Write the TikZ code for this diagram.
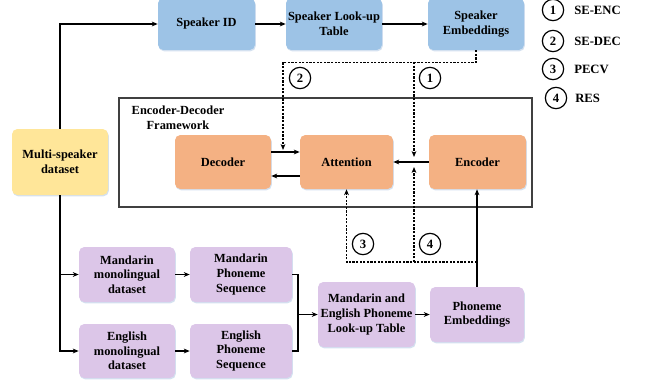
\documentclass[tikz,border=0pt]{standalone}
\usepackage{fontspec}
\setmainfont{Liberation Serif}
\usetikzlibrary{arrows.meta,calc,shadows}
\definecolor{cblue}{HTML}{9DC3E6}
\definecolor{corange}{HTML}{F4B183}
\definecolor{cyellow}{HTML}{FFE699}
\definecolor{cpurple}{HTML}{DCC6E8}
\definecolor{cshadow}{HTML}{C9D9EC}
\definecolor{cframe}{HTML}{404040}
\tikzset{
  box/.style={rounded corners=4pt, align=center, inner sep=1pt,
    font=\fontsize{9.3}{10.9}\selectfont\bfseries,
    drop shadow={shadow xshift=0.6pt, shadow yshift=-1pt, fill=cshadow, opacity=0.8}},
  bluebox/.style={box, fill=cblue},
  orangebox/.style={box, fill=corange},
  yellowbox/.style={box, fill=cyellow},
  purplebox/.style={box, fill=cpurple},
  conn/.style={line width=0.9pt, -{Stealth[length=4.5pt,width=3.6pt]}},
  plain/.style={line width=0.9pt},
  dashline/.style={line width=0.9pt, dash pattern=on 1.6pt off 1.1pt},
  dconn/.style={dashline, -{Stealth[length=4.5pt,width=3.6pt]}},
  numc/.style={circle, draw, line width=0.9pt, minimum size=16pt, inner sep=0pt,
    font=\fontsize{9.5}{10}\selectfont\bfseries},
  legtxt/.style={anchor=west, inner sep=0pt, font=\fontsize{9.5}{10.9}\selectfont\bfseries},
}
\begin{document}
\begin{tikzpicture}[x=0.75pt,y=-0.75pt]
\useasboundingbox (0,0) rectangle (645,385);

% frame
\draw[line width=1.2pt, draw=cframe] (119,98) rectangle (532,207);
\node[align=center, inner sep=0pt, font=\fontsize{9.3}{11}\selectfont\bfseries] (flabel) at (178,118) {Encoder-Decoder\\Framework};

% top row
\node[bluebox, minimum width=72.75pt, minimum height=39pt] (spkid) at (206.5,24) {Speaker ID};
\node[bluebox, minimum width=72pt, minimum height=39pt] (spklut) at (334,24) {Speaker Look-up\\Table};
\node[bluebox, minimum width=72pt, minimum height=39pt] (spkemb) at (476,24) {Speaker\\Embeddings};

% left
\node[yellowbox, minimum width=72pt, minimum height=49.5pt] (multi) at (60,162) {Multi-speaker\\dataset};

% encoder-decoder
\node[orangebox, minimum width=72pt, minimum height=40.5pt] (decoder) at (223,162) {Decoder};
\node[orangebox, minimum width=69.75pt, minimum height=40.5pt] (attention) at (346.5,162) {Attention};
\node[orangebox, minimum width=72.75pt, minimum height=40.5pt] (encoder) at (477.5,162) {Encoder};

% bottom
\node[purplebox, minimum width=72pt, minimum height=41.25pt] (mmono) at (127,274.5) {Mandarin\\monolingual\\dataset};
\node[purplebox, minimum width=72pt, minimum height=40.5pt] (emono) at (127,351) {English\\monolingual\\dataset};
\node[purplebox, minimum width=76.5pt, minimum height=41.25pt] (mseq) at (241,274.5) {Mandarin\\Phoneme\\Sequence};
\node[purplebox, minimum width=76.5pt, minimum height=40.5pt] (eseq) at (241,351) {English\\Phoneme\\Sequence};
\node[purplebox, minimum width=72.75pt, minimum height=48.75pt] (plut) at (366.5,314.5) {Mandarin and\\English Phoneme\\Look-up Table};
\node[purplebox, minimum width=70.5pt, minimum height=41.25pt] (pemb) at (477,314.5) {Phoneme\\Embeddings};

% helper coordinates
\coordinate (br) at (298,314.5);
\coordinate (sedec) at (283,150);
\coordinate (seenctop) at (414,62);
\coordinate (seenc) at (414,157);
\coordinate (dl) at (477,262);
\coordinate (resbot) at (414,262);
\coordinate (res) at (414,167);

% connectors
\draw[conn] (multi.north) |- (spkid.west);
\draw[conn] (spkid.east) -- (spklut.west);
\draw[conn] (spklut.east) -- (spkemb.west);
\draw[conn] (multi.south) |- (emono.west);
\draw[conn] (multi.south |- mmono.west) -- (mmono.west);
\draw[conn] (mmono.east) -- (mseq.west);
\draw[conn] (emono.east) -- (eseq.west);
\draw[plain] (mseq.east) -| (br) |- (eseq.east);
\draw[conn] (br) -- (plut.west);
\draw[conn] (plut.east) -- (pemb.west);
\draw[conn] (pemb.north) -- (pemb.north |- encoder.south);
\draw[conn] ($(decoder.east)+(0,-10)$) -- ($(attention.west)+(0,-10)$);
\draw[conn] ($(attention.west)+(0,14)$) -- ($(decoder.east)+(0,14)$);
\draw[conn] (encoder.west) -- (attention.east);

% dashed paths
\draw[dconn] (spkemb.south) -- ++(0,12) -| (sedec);
\draw[dconn] (seenctop) -- (seenc);
\draw[dconn] (dl) -| (attention.south);
\draw[dconn] (resbot) -- (res);

% numbered circles
\node[numc] (c2) at (300,78) {2};
\node[numc] (c1) at (430,78) {1};
\node[numc] (c3) at (363,244) {3};
\node[numc] (c4) at (430,244) {4};

% legend
\node[numc] (l1) at (553,10) {1};
\node[numc] (l2) at (553,41) {2};
\node[numc] (l3) at (553,69) {3};
\node[numc] (l4) at (556,98) {4};
\node[legtxt] (t1) at (574,10) {SE-ENC};
\node[legtxt] (t2) at (574,41) {SE-DEC};
\node[legtxt] (t3) at (574,69) {PECV};
\node[legtxt] (t4) at (575,98) {RES};
\end{tikzpicture}
\end{document}
